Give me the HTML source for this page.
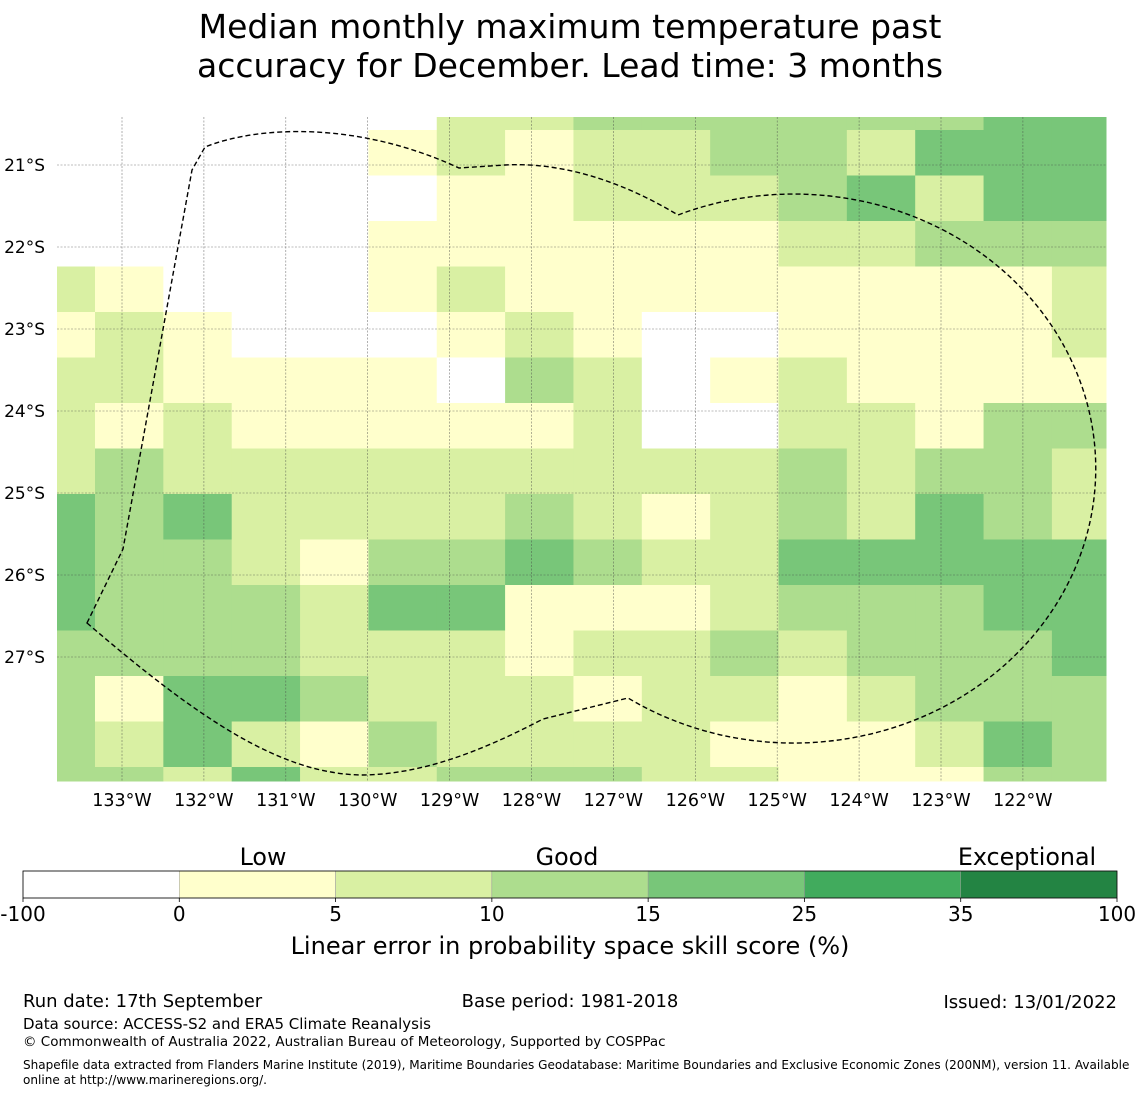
<!DOCTYPE html>
<html><head><meta charset="utf-8">
<style>
body{margin:0;background:#fff;width:1140px;height:1095px;overflow:hidden;font-family:"DejaVu Sans","Liberation Sans",sans-serif;}
svg{display:block}
</style></head>
<body>
<svg id="chart" width="1140" height="1095" xmlns="http://www.w3.org/2000/svg">
<text x="570" y="38" text-anchor="middle" font-size="33">Median monthly maximum temperature past</text>
<text x="570" y="77" text-anchor="middle" font-size="33">accuracy for December. Lead time: 3 months</text>
<g id="cells"></g>
<g id="grid"></g>
<g fill="none" stroke="#000" stroke-width="1.4" stroke-dasharray="5,3">
<path d="M87,623 L123,549 L192,170 L205,147 C260,125 360,122 459,168 L505,165 C560,162 620,180 678,215 A302,274.5 0 1 1 628,698 L543,719 C480,752 420,775 360,775 C280,773 200,720 87,623 Z"/>
</g>
<g id="axes"></g>
<g id="cbar"></g>
<text x="570" y="954" text-anchor="middle" font-size="24">Linear error in probability space skill score (%)</text>
<text x="23" y="1007" font-size="18">Run date: 17th September</text>
<text x="570" y="1007" text-anchor="middle" font-size="18">Base period: 1981-2018</text>
<text x="1117" y="1008" text-anchor="end" font-size="18">Issued: 13/01/2022</text>
<text x="23" y="1029" font-size="15">Data source: ACCESS-S2 and ERA5 Climate Reanalysis</text>
<text x="23" y="1046" font-size="13.5">© Commonwealth of Australia 2022, Australian Bureau of Meteorology, Supported by COSPPac</text>
<text x="23" y="1069" font-size="12.05">Shapefile data extracted from Flanders Marine Institute (2019), Maritime Boundaries Geodatabase: Maritime Boundaries and Exclusive Economic Zones (200NM), version 11. Available</text>
<text x="23" y="1084" font-size="12.05">online at http://www.marineregions.org/.</text>
</svg>
<script>
// category levels per cell: 0 white(<0),1 (0-5),2 (5-10),3 (10-15),4 (15-25),5 (25-35),6 (35-100)
const gridRows = [
 [0,0,0,0,0,0,2,2,3,3,3,3,3,3,4,4],
 [0,0,0,0,0,1,2,1,2,2,3,3,2,4,4,4],
 [0,0,0,0,0,0,1,1,2,2,2,3,4,2,4,4],
 [0,0,0,0,0,1,1,1,1,1,1,2,2,3,3,3],
 [2,1,0,0,0,1,2,1,1,1,1,1,1,1,1,2],
 [1,2,1,0,0,0,1,2,1,0,0,1,1,1,1,2],
 [2,2,1,1,1,1,0,3,2,0,1,2,1,1,1,1],
 [2,1,2,1,1,1,1,1,2,0,0,2,2,1,3,3],
 [2,3,2,2,2,2,2,2,2,2,2,3,2,3,3,2],
 [4,3,4,2,2,2,2,3,2,1,2,3,2,4,3,2],
 [4,3,3,2,1,3,3,4,3,2,2,4,4,4,4,4],
 [4,3,3,3,2,4,4,1,1,1,2,3,3,3,4,4],
 [3,3,3,3,2,2,2,1,2,2,3,2,3,3,3,4],
 [3,1,4,4,3,2,2,2,1,2,2,1,2,3,3,3],
 [3,2,4,2,1,3,2,2,2,2,1,1,1,2,4,3],
 [3,3,2,4,2,2,3,3,3,2,2,1,1,1,3,3]
];
const levelColors = ["#ffffff","#ffffcc","#d9f0a3","#addd8e","#78c679","#41ab5d","#238443"];
const lonTicks = [133,132,131,130,129,128,127,126,125,124,123,122];
const latTicks = [21,22,23,24,25,26,27];
const cbarBounds = ["-100","0","5","10","15","25","35","100"];
const cbarLabels = ["Low","Good","Exceptional"];

const NS="http://www.w3.org/2000/svg";
function mk(tag,attrs,parent){const e=document.createElementNS(NS,tag);for(const k in attrs)e.setAttribute(k,attrs[k]);parent.appendChild(e);return e;}
const X0=57,X1=1106,Y0=117,Y1=781;
const colW=68.35, rowH=45.5, colStart=95-colW, rowStart=130-rowH;
function colX(i){return Math.max(X0,Math.min(X1,colStart+i*colW));}
function rowY(j){return Math.max(Y0,Math.min(Y1,rowStart+j*rowH));}
function lonX(w){return 122+(133-w)*81.9;}
function latY(s){return 165+(s-21)*82;}

const cells=document.getElementById('cells');
gridRows.forEach((row,j)=>{
  row.forEach((v,i)=>{
    const x=colX(i),x2=colX(i+1),y=rowY(j),y2=rowY(j+1);
    const r=mk('rect',{x:x,y:y,width:x2-x+0.5,height:y2-y+0.5,fill:levelColors[v]},cells);
    
    
  });
});
const grid=document.getElementById('grid'), axes=document.getElementById('axes');
lonTicks.forEach(w=>{
  const x=lonX(w);
  const l=mk('line',{x1:x,y1:Y0,x2:x,y2:Y1,stroke:'#444','stroke-width':0.6,'stroke-dasharray':'2,1.5',opacity:0.7},grid);
  
  
  const t=mk('text',{x:x,y:806,'text-anchor':'middle','font-size':17.5},axes);
  t.textContent=w+'°W';
  
  
});
latTicks.forEach(s=>{
  const y=latY(s);
  const l=mk('line',{x1:X0,y1:y,x2:X1,y2:y,stroke:'#444','stroke-width':0.6,'stroke-dasharray':'2,1.5',opacity:0.7},grid);
  
  
  const t=mk('text',{x:45,y:y+6,'text-anchor':'end','font-size':17},axes);
  t.textContent=s+'°S';
  
  
});
const cb=document.getElementById('cbar');
const CB0=23,CB1=1117,CBY=871,CBH=27,segW=(CB1-CB0)/(cbarBounds.length-1);
levelColors.forEach((c,i)=>{
  const r=mk('rect',{x:CB0+i*segW,y:CBY,width:segW,height:CBH,fill:c,stroke:'#999','stroke-width':0.5},cb);
  
  
});
mk('rect',{x:CB0,y:CBY,width:CB1-CB0,height:CBH,fill:'none',stroke:'#000','stroke-width':0.8},cb);
cbarBounds.forEach((b,i)=>{
  const x=CB0+i*segW;
  mk('line',{x1:x,y1:CBY+CBH,x2:x,y2:CBY+CBH+4,stroke:'#000','stroke-width':0.8},cb);
  const t=mk('text',{x:x,y:921,'text-anchor':'middle','font-size':20},cb);
  t.textContent=b;
  
  
});
const catX=[263,567,1027];
cbarLabels.forEach((s,i)=>{
  const t=mk('text',{x:catX[i],y:865,'text-anchor':'middle','font-size':23.8},cb);
  t.textContent=s;
  
  
});
</script>
</body></html>
